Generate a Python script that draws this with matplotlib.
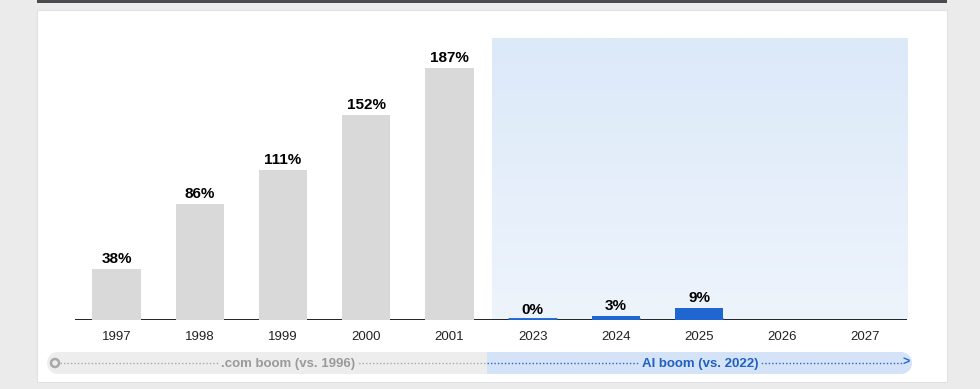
import matplotlib.pyplot as plt
import numpy as np
from matplotlib.patches import Rectangle, Ellipse
from matplotlib.colors import LinearSegmentedColormap

# data
years = ['1997', '1998', '1999', '2000', '2001', '2023', '2024', '2025', '2026', '2027']
dotcom_vals = [38, 86, 111, 152, 187]
ai_vals = [0, 3, 9]
dotcom_label = '.com boom (vs. 1996)'
ai_label = 'AI boom (vs. 2022)'

plt.rcParams['font.family'] = ['Liberation Sans', 'DejaVu Sans']

W, H = 980, 389
fig = plt.figure(figsize=(W / 100, H / 100), dpi=100)
fig.patch.set_facecolor('#ebebeb')

def fx(px):
    return px / W

def fy(py):
    return 1 - py / H

def rect(x0, y0, x1, y1, **kw):
    fig.patches.append(Rectangle((fx(x0), fy(y1)), (x1 - x0) / W, (y1 - y0) / H,
                                 transform=fig.transFigure, **kw))

def circ(cx, cy, r, **kw):
    fig.patches.append(Ellipse((fx(cx), fy(cy)), 2 * r / W, 2 * r / H,
                               transform=fig.transFigure, **kw))

# white panel and top dark strip
rect(37, 10, 947, 382, facecolor='white', edgecolor='#e2e2e2', lw=0.8, zorder=-5)
rect(37, 0, 947, 3, facecolor='#4a4a4f', edgecolor='none', zorder=-5)

# main axes
ax = fig.add_axes([fx(75), fy(320), fx(832), (320 - 38) / H])
ax.set_zorder(5)
ax.set_facecolor('none')
ax.set_xlim(-0.5, len(years) - 0.5)
ax.set_ylim(0, 209)

# shaded AI region with soft vertical gradient
grad = np.linspace(0, 1, 100).reshape(-1, 1)
cm = LinearSegmentedColormap.from_list('bg', ['#eef4fc', '#dce9f9'])
ax.imshow(grad, extent=[4.51, 9.5, 0, 209], origin='lower', cmap=cm,
          aspect='auto', zorder=0)

ax.axhline(0, color='#222222', lw=1.4, zorder=1)

x_dot = np.arange(len(dotcom_vals))
x_ai = np.arange(len(dotcom_vals), len(dotcom_vals) + len(ai_vals))
bw = 0.58
ax.bar(x_dot, dotcom_vals, width=bw, color='#d9d9d9', zorder=2)
ax.bar(x_ai, ai_vals, width=bw, color='#1f66d1', linewidth=0, zorder=2)
# thin foot so the 0% bar stays visible, as in the source
ax.hlines(np.zeros(len(ai_vals)), x_ai - bw / 2, x_ai + bw / 2,
          color='#1f66d1', lw=3.5, zorder=2)

for xi, v in zip(list(x_dot) + list(x_ai), dotcom_vals + ai_vals):
    ax.text(xi, v + 2.2, f'{v}%', ha='center', va='bottom', fontsize=11,
            fontweight='bold', color='black', zorder=3)

for s in ax.spines.values():
    s.set_visible(False)
ax.set_yticks([])
ax.set_xticks(range(len(years)))
ax.set_xticklabels(years, fontsize=9.5, color='#222222')
ax.tick_params(axis='x', length=0, pad=8)

# bottom timeline pill
yc, r = 363, 11
circ(58, yc, r, facecolor='#ededed', edgecolor='none', zorder=1)
rect(58, yc - r, 487, yc + r, facecolor='#ededed', edgecolor='none', zorder=1)
rect(487, yc - r, 901, yc + r, facecolor='#d4e3f8', edgecolor='none', zorder=1)
circ(901, yc, r, facecolor='#d4e3f8', edgecolor='none', zorder=1)

fig.lines.append(plt.Line2D([fx(60), fx(487)], [fy(yc), fy(yc)], transform=fig.transFigure,
                            color='#a8a8a8', lw=1, ls=(0, (1, 1.5)), zorder=2))
fig.lines.append(plt.Line2D([fx(487), fx(903)], [fy(yc), fy(yc)], transform=fig.transFigure,
                            color='#2a65c4', lw=1, ls=(0, (1, 1.5)), zorder=2))
circ(55, yc, 4, facecolor='#ededed', edgecolor='#a8a8a8', lw=1.8, zorder=3)
fig.text(fx(906), fy(yc), '>', ha='center', va='center', fontsize=9,
         fontweight='bold', color='#2a65c4', zorder=4)

fig.text(fx(288), fy(yc + 1), dotcom_label, ha='center', va='center', fontsize=9.5,
         fontweight='bold', color='#9a9a9a', zorder=4,
         bbox=dict(facecolor='#ededed', edgecolor='none', pad=1.5))
fig.text(fx(700), fy(yc + 1), ai_label, ha='center', va='center', fontsize=9.5,
         fontweight='bold', color='#2160c0', zorder=4,
         bbox=dict(facecolor='#d4e3f8', edgecolor='none', pad=1.5))

fig.savefig('out.png', dpi=100, facecolor=fig.get_facecolor())
